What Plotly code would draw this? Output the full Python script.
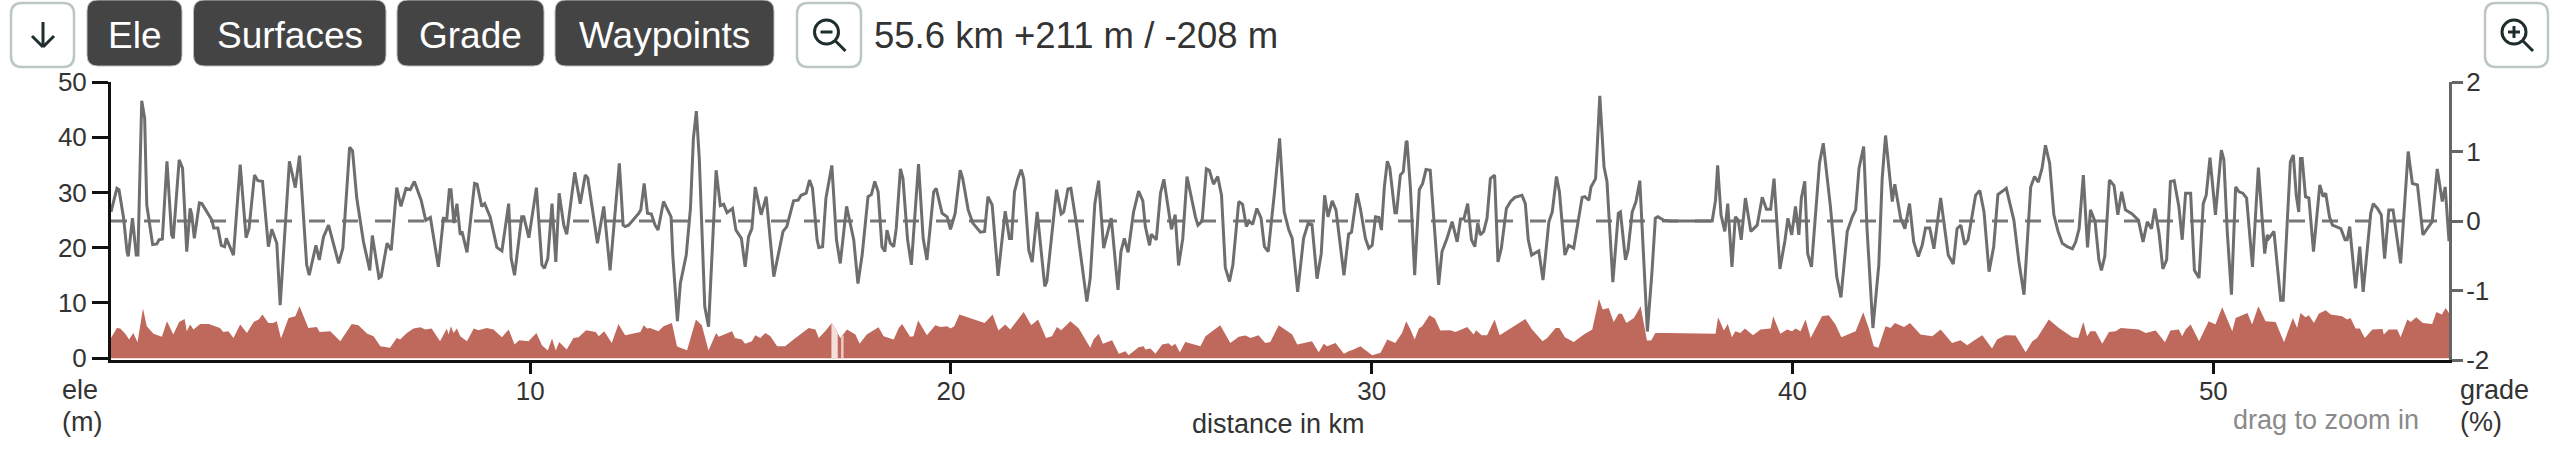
import plotly.graph_objects as go

# grade line
grade_km = [0.04, 0.18, 0.23, 0.34, 0.42, 0.45, 0.55, 0.64, 0.68, 0.77, 0.84, 0.89, 1.03, 1.13, 1.18, 1.26, 1.37, 1.48, 1.52, 1.66, 1.74, 1.84, 1.92, 1.96, 2.02, 2.14, 2.20, 2.44, 2.48, 2.58, 2.66, 2.74, 2.78, 2.95, 3.11, 3.25, 3.32, 3.45, 3.53, 3.64, 3.78, 3.86, 3.98, 4.06, 4.28, 4.42, 4.52, 4.69, 4.75, 4.91, 4.99, 5.09, 5.21, 5.45, 5.55, 5.71, 5.78, 5.88, 6.04,
            6.19, 6.25, 6.41, 6.46, 6.60, 6.70, 6.83, 6.93, 7.05, 7.15, 7.25, 7.41, 7.52, 7.63, 7.82, 7.94, 8.02, 8.08, 8.12, 8.19, 8.26, 8.34, 8.38, 8.50, 8.68, 8.74, 8.85, 8.92, 9.05, 9.21, 9.33, 9.49, 9.55, 9.63, 9.80, 9.85, 9.97, 10.15, 10.28, 10.34, 10.42, 10.52, 10.61, 10.69, 10.80, 10.87, 11.06, 11.19, 11.31, 11.37, 11.60, 11.75, 11.90, 12.12, 12.21,
            12.26, 12.34, 12.58, 12.63, 12.71, 12.79, 12.88, 12.97, 13.04, 13.17, 13.35, 13.39, 13.50, 13.57, 13.71, 13.81, 13.88, 13.95, 14.02, 14.15, 14.24, 14.42, 14.52, 14.60, 14.68, 14.81, 14.89, 15.02, 15.11, 15.19, 15.27, 15.35, 15.49, 15.61, 15.79, 15.92, 16.01, 16.10, 16.26, 16.37, 16.44, 16.56, 16.64, 16.71, 16.82, 16.86, 16.95, 17.03, 17.17, 17.28, 17.37, 17.52, 17.69, 17.79, 17.89, 18.03, 18.11, 18.19, 18.27, 18.36, 18.43,
            18.48, 18.56, 18.64, 18.70, 18.80, 18.86, 18.97, 19.06, 19.23, 19.34, 19.43, 19.59, 19.65, 19.79, 19.91, 19.99, 20.10, 20.22, 20.28, 20.41, 20.52, 20.70, 20.80, 20.88, 20.98, 21.12, 21.29, 21.39, 21.44, 21.51, 21.59, 21.67, 21.73, 21.85, 21.93, 22.05, 22.23, 22.28, 22.51, 22.62, 22.68, 22.78, 22.85, 23.00, 23.23, 23.31, 23.42, 23.51, 23.63, 23.81, 23.97, 24.04, 24.12, 24.21, 24.34, 24.46, 24.56,
            24.62, 24.72, 24.76, 24.88, 24.98, 25.06, 25.15, 25.24, 25.33, 25.41, 25.51, 25.61, 25.81, 25.87, 25.97, 26.07, 26.14, 26.24, 26.34, 26.43, 26.52, 26.62, 26.70, 26.84, 26.93, 27.02, 27.09, 27.17, 27.27, 27.37, 27.45, 27.54, 27.69, 27.81, 27.92, 28.03, 28.11, 28.24, 28.38, 28.49, 28.58, 28.70, 28.80, 28.88, 28.96, 29.06, 29.15, 29.34, 29.45, 29.52, 29.65, 29.73, 29.85, 29.93, 30.01, 30.09, 30.17, 30.23, 30.30, 30.37, 30.43, 30.55, 30.59, 30.68, 30.75, 30.82,
            30.84, 30.92, 31.02, 31.13, 31.21, 31.29, 31.39, 31.59, 31.67, 31.79, 31.91, 32.03, 32.11, 32.19, 32.28, 32.37, 32.45, 32.52, 32.58, 32.66, 32.74, 32.82, 32.92, 33.00, 33.08, 33.20, 33.30, 33.40, 33.57, 33.65, 33.72, 33.80, 33.97, 34.07, 34.21, 34.29, 34.39, 34.46, 34.59, 34.68, 34.80, 35.00, 35.06, 35.16, 35.21, 35.32, 35.42, 35.52, 35.59, 35.73, 35.86, 35.91, 36.03, 36.09, 36.19, 36.28, 36.37, 36.55, 36.66, 36.74, 36.80, 36.94,
            37.10, 38.09, 38.17, 38.22, 38.30, 38.39, 38.46, 38.56, 38.64, 38.71, 38.78, 38.88, 39.01, 39.16, 39.28, 39.38, 39.48, 39.56, 39.70, 39.82, 39.89, 39.98, 40.07, 40.15, 40.21, 40.29, 40.36, 40.45, 40.64, 40.73, 40.90, 41.05, 41.15, 41.30, 41.42, 41.50, 41.58, 41.69, 41.77, 41.91, 42.05, 42.13, 42.21, 42.37, 42.43, 42.57, 42.67, 42.78, 42.88, 42.99, 43.08, 43.16,
            43.26, 43.36, 43.52, 43.70, 43.82, 43.91, 44.00, 44.09, 44.17, 44.35, 44.45, 44.55, 44.67, 44.78, 44.88, 45.08, 45.26, 45.38, 45.50, 45.66, 45.75, 45.84, 45.93, 46.01, 46.11, 46.21, 46.31, 46.41, 46.53, 46.65, 46.73, 46.81, 46.91, 47.01, 47.08, 47.19, 47.28, 47.34, 47.42, 47.53, 47.64, 47.73, 47.82, 47.91, 48.07, 48.22, 48.33, 48.43, 48.53, 48.61, 48.71, 48.80, 48.89, 48.98, 49.07, 49.18, 49.26, 49.34,
            49.46, 49.55, 49.66, 49.76, 49.83, 49.92, 50.05, 50.19, 50.25, 50.33, 50.43, 50.53, 50.61, 50.70, 50.79, 50.93, 51.07, 51.22, 51.28, 51.32, 51.44, 51.60, 51.66, 51.83, 51.90, 51.97, 52.03, 52.07, 52.11, 52.19, 52.27, 52.38, 52.53, 52.61, 52.67, 52.76, 52.83, 53.03, 53.13, 53.18, 53.24, 53.38, 53.48, 53.56, 53.74, 53.80, 53.90, 53.99, 54.07, 54.17, 54.27, 54.45, 54.63, 54.73, 54.85, 54.98, 55.20, 55.32, 55.44, 55.51, 55.60]
grade_pct = [0.13, 0.47, 0.45, 0.04, -0.44, -0.51, 0.04, -0.49, -0.49, 1.73, 1.48, 0.23, -0.34, -0.33, -0.27, -0.26, 0.86, -0.20, -0.25, 0.88, 0.76, -0.44, 0.18, 0.09, -0.25, 0.26, 0.25, 0.01, -0.10, -0.10, -0.35, -0.37, -0.25, -0.49, 0.81, -0.24, -0.11, 0.66, 0.58, 0.57, -0.37, -0.12, -0.32, -1.21, 0.86, 0.48, 0.94, -0.63, -0.78, -0.35, -0.56, -0.23, -0.06, -0.61, -0.39, 1.06, 1.01, 0.33, -0.30,
             -0.71, -0.21, -0.82, -0.80, -0.32, -0.42, 0.48, 0.21, 0.47, 0.45, 0.57, 0.30, 0.01, 0.05, -0.66, 0.04, 0.03, 0.45, 0.45, -0.03, 0.25, -0.20, -0.15, -0.45, 0.54, 0.53, 0.21, 0.25, 0.06, -0.38, -0.43, 0.25, -0.54, -0.78, 0.06, 0.06, -0.24, 0.48, -0.63, -0.68, -0.54, 0.25, -0.59, 0.40, -0.06, -0.19, 0.70, 0.25, 0.66, 0.62, -0.32, 0.21, -0.71, 0.83, -0.06,
             -0.08, -0.06, 0.11, 0.16, 0.54, 0.11, 0.10, -0.06, -0.13, 0.28, 0.06, -0.49, -1.44, -0.90, -0.49, 0.18, 1.19, 1.58, 0.90, -1.23, -1.52, 0.73, 0.22, 0.24, 0.12, 0.18, -0.13, -0.25, -0.66, -0.23, -0.11, 0.49, 0.09, 0.35, -0.80, -0.44, -0.15, -0.08, 0.29, 0.30, 0.37, 0.40, 0.59, 0.47, -0.27, -0.38, -0.37, 0.33, 0.80, -0.27, -0.61, 0.21, -0.27, -0.90, -0.49, 0.35, 0.38, 0.57, 0.42, -0.37, -0.44,
             -0.13, -0.32, -0.37, -0.11, 0.75, 0.61, -0.27, -0.63, 0.82, -0.25, -0.56, 0.42, 0.47, 0.11, 0.06, -0.12, 0.11, 0.73, 0.61, 0.16, -0.03, -0.16, -0.15, 0.35, 0.23, -0.79, 0.14, -0.25, -0.25, 0.42, 0.61, 0.74, 0.61, -0.42, -0.59, 0.13, -0.94, -0.87, 0.45, 0.10, 0.13, 0.46, 0.47, -0.11, -1.16, -0.82, 0.25, 0.58, -0.39, 0.04, -0.99, -0.44, -0.25, -0.45, 0.13, 0.43, 0.29,
             -0.08, -0.35, -0.19, -0.27, 0.40, 0.60, 0.25, -0.12, 0.09, -0.64, -0.25, 0.64, 0.06, -0.06, 0.0, 0.75, 0.73, 0.53, 0.64, 0.37, -0.67, -0.87, -0.63, 0.28, 0.24, -0.08, 0.0, -0.05, 0.18, 0.04, -0.37, -0.44, 0.42, 1.19, 0.13, -0.13, -0.25, -1.02, -0.25, -0.03, -0.05, -0.83, -0.47, 0.37, 0.06, 0.29, 0.16, -0.78, -0.19, -0.16, 0.40, 0.18, -0.25, -0.39, -0.35, 0.06, 0.05, -0.13, 0.49, 0.86, 0.76, 0.12, 0.12, 0.66, 0.71, 1.15,
             1.14, 0.47, -0.78, 0.45, 0.54, 0.74, 0.73, -0.92, -0.44, -0.25, -0.01, -0.30, 0.03, 0.03, 0.25, -0.27, -0.37, -0.03, -0.20, -0.15, 0.04, 0.61, 0.66, -0.59, -0.39, 0.18, 0.28, 0.34, 0.37, 0.25, -0.27, -0.49, -0.43, -0.85, -0.01, 0.13, 0.64, 0.42, -0.49, -0.35, -0.39, 0.34, 0.35, 0.30, 0.49, 0.61, 1.80, 0.78, 0.57, -0.88, 0.11, 0.13, -0.56, -0.42, 0.13, 0.28, 0.58, -1.59, -0.73, 0.04, 0.06, 0.01,
             0.0, 0.0, 0.30, 0.80, 0.09, -0.15, 0.25, -0.66, 0.06, 0.01, -0.27, 0.33, -0.15, -0.06, 0.34, 0.17, 0.17, 0.61, -0.69, -0.28, 0.04, -0.20, 0.21, -0.20, 0.33, 0.57, -0.47, -0.66, 0.83, 1.12, 0.21, -0.80, -1.10, -0.15, 0.06, 0.16, 0.76, 1.07, -0.11, -1.54, -0.63, 0.61, 1.23, 0.28, 0.53, 0.04, -0.11, 0.25, -0.30, -0.51, -0.35, -0.10,
             -0.10, -0.40, 0.33, -0.49, -0.62, -0.11, -0.06, -0.34, -0.27, 0.37, 0.44, 0.13, -0.73, -0.37, 0.38, 0.47, 0.01, -0.59, -1.06, 0.49, 0.64, 0.56, 0.76, 1.09, 0.83, 0.09, -0.15, -0.32, -0.37, -0.40, -0.30, -0.11, 0.66, -0.38, 0.16, -0.01, -0.56, -0.71, -0.51, 0.59, 0.51, 0.09, 0.42, 0.16, 0.10, 0.01, -0.30, -0.01, -0.11, 0.18, -0.18, -0.69, -0.56, 0.57, 0.58, 0.21, -0.27, 0.40,
             0.40, -0.71, -0.82, 0.25, 0.37, 0.91, 0.09, 1.02, 0.88, -0.15, -1.06, 0.49, 0.42, 0.40, 0.33, -0.66, 0.77, -0.47, -0.20, -0.25, -0.15, -1.14, -1.14, 0.85, 0.95, 0.37, 0.13, 0.90, 0.90, 0.35, 0.33, -0.44, 0.52, 0.35, 0.40, 0.06, -0.06, -0.11, -0.27, -0.27, -0.08, -0.97, -0.37, -1.02, 0.11, 0.25, 0.18, 0.09, -0.54, 0.16, 0.16, -0.61, 1.00, 0.54, 0.52, -0.20, -0.01, 0.75, 0.28, 0.49, -0.29]

# elevation area
ele_km = [0.04, 0.18, 0.26, 0.38, 0.47, 0.57, 0.67, 0.80, 0.89, 1.05, 1.25, 1.37, 1.52, 1.66, 1.79, 1.84, 1.92, 2.00, 2.16, 2.36, 2.63, 2.71, 2.83, 2.95, 3.11, 3.27, 3.43, 3.55, 3.64, 3.78, 3.89, 3.98, 4.08, 4.26, 4.42, 4.52, 4.73, 4.93, 5.00, 5.25, 5.49, 5.76, 5.92, 6.13,
          6.28, 6.44, 6.67, 6.83, 6.91, 7.07, 7.23, 7.39, 7.51, 7.66, 7.86, 8.02, 8.06, 8.12, 8.18, 8.26, 8.34, 8.50, 8.66, 8.77, 8.97, 9.13, 9.33, 9.49, 9.63, 9.74, 9.96, 10.15, 10.28, 10.42, 10.52, 10.61, 10.69, 10.87, 11.03, 11.15, 11.33, 11.56, 11.63, 11.76, 11.94, 12.10, 12.21,
          12.26, 12.62, 12.70, 12.78, 12.85, 13.05, 13.17, 13.37, 13.49, 13.57, 13.73, 13.94, 14.08, 14.24, 14.42, 14.48, 14.60, 14.80, 14.87, 15.03, 15.11, 15.27, 15.35, 15.47, 15.59, 15.71, 15.87, 16.06, 16.26, 16.62, 16.78, 16.86, 17.01, 17.17, 17.25, 17.37, 17.53, 17.73, 17.83, 18.00, 18.28, 18.40,
          18.64, 18.76, 18.84, 19.03, 19.11, 19.22, 19.43, 19.63, 19.75, 19.91, 19.99, 20.08, 20.20, 20.80, 20.99, 21.13, 21.29, 21.41, 21.73, 21.91, 22.07, 22.26, 22.40, 22.52, 22.62, 22.84, 23.04, 23.15, 23.31, 23.39, 23.51, 23.61, 23.83, 23.99, 24.15, 24.22, 24.46, 24.58,
          24.62, 24.74, 24.86, 25.02, 25.17, 25.25, 25.33, 25.44, 25.57, 25.93, 26.05, 26.40, 26.64, 26.84, 27.00, 27.12, 27.31, 27.47, 27.59, 27.79, 27.91, 28.11, 28.23, 28.58, 28.74, 28.86, 28.94, 29.14, 29.34, 29.45, 29.57, 29.73, 30.01, 30.21, 30.37, 30.56, 30.72, 30.82,
          30.92, 31.02, 31.12, 31.20, 31.37, 31.50, 31.63, 31.87, 31.99, 32.27, 32.42, 32.48, 32.61, 32.74, 32.92, 33.04, 33.65, 33.81, 34.06, 34.17, 34.37, 34.46, 34.59, 34.80, 35.04, 35.24, 35.40, 35.49, 35.63, 35.75, 35.87, 35.95, 36.05, 36.23, 36.39, 36.54, 36.64, 36.74,
          36.98, 38.17, 38.23, 38.37, 38.46, 38.56, 38.64, 38.76, 38.87, 39.06, 39.24, 39.48, 39.54, 39.71, 39.87, 39.99, 40.07, 40.19, 40.31, 40.43, 40.70, 40.86, 41.02, 41.16, 41.50, 41.68, 41.81, 41.93, 42.04, 42.21, 42.33, 42.43, 42.65, 42.79, 43.04,
          43.32, 43.52, 43.79, 43.99, 44.15, 44.35, 44.51, 44.74, 44.86, 45.06, 45.30, 45.54, 45.70, 45.81, 46.09, 46.33, 46.65, 46.79, 46.91, 47.00, 47.08, 47.20, 47.36, 47.52, 47.68, 47.80, 48.23, 48.39, 48.63, 48.85, 48.98, 49.18, 49.26,
          49.34, 49.46, 49.66, 49.89, 50.05, 50.21, 50.45, 50.53, 50.81, 50.92, 51.07, 51.24, 51.48, 51.68, 51.89, 51.99, 52.07, 52.19, 52.27, 52.39, 52.51, 52.67, 52.79, 53.06, 53.18, 53.26, 53.38, 53.48, 53.60, 53.78, 54.02, 54.05, 54.17, 54.37, 54.45, 54.61, 54.69, 54.82, 54.98, 55.20, 55.30, 55.43, 55.52, 55.60]
ele_m = [3.67, 5.48, 5.36, 4.40, 3.37, 4.58, 2.89, 8.98, 5.78, 4.40, 3.86, 6.69, 4.28, 6.57, 7.11, 4.88, 6.08, 5.18, 6.20, 6.20, 5.48, 4.76, 4.88, 3.67, 6.08, 4.58, 6.57, 6.99, 7.89, 6.39, 6.39, 6.69, 3.55, 7.29, 7.59, 9.40, 5.48, 5.66, 4.76, 4.88, 3.07, 6.20, 5.96, 4.40,
         3.98, 2.17, 1.87, 3.67, 3.37, 4.58, 5.36, 5.60, 5.18, 5.36, 3.07, 5.36, 4.28, 5.78, 4.58, 5.36, 3.98, 3.07, 5.36, 5.06, 5.48, 5.18, 3.80, 5.18, 2.47, 3.25, 3.07, 4.58, 2.35, 1.39, 3.55, 1.39, 2.95, 1.57, 3.67, 3.80, 5.06, 4.76, 3.98, 4.88, 2.77, 6.20, 4.76,
         4.16, 4.76, 5.96, 5.36, 5.48, 4.88, 5.78, 6.39, 2.17, 1.87, 1.45, 6.99, 5.96, 1.39, 4.58, 3.86, 4.28, 4.88, 3.67, 3.37, 2.59, 3.07, 4.16, 3.67, 4.58, 3.98, 2.17, 2.17, 3.37, 5.48, 5.18, 3.67, 4.88, 6.39, 5.48, 3.67, 5.18, 4.28, 2.59, 4.28, 5.60, 3.98,
         3.37, 5.48, 6.20, 3.86, 3.98, 6.81, 4.16, 5.96, 5.66, 5.78, 5.36, 5.78, 7.89, 6.39, 7.89, 5.00, 6.08, 5.18, 8.37, 5.96, 6.99, 3.67, 3.98, 5.66, 5.06, 6.69, 5.36, 3.98, 1.87, 3.37, 4.40, 2.59, 3.25, 0.78, 1.27, 0.54, 1.99, 2.17,
         1.57, 1.75, 0.78, 2.47, 2.71, 2.17, 2.59, 1.08, 2.95, 2.17, 3.98, 5.96, 2.77, 3.86, 4.10, 3.67, 4.16, 2.77, 2.95, 5.96, 5.36, 4.28, 2.47, 3.07, 1.08, 2.59, 2.17, 2.77, 0.78, 1.27, 1.57, 2.17, 0.54, 0.96, 3.37, 2.77, 4.58, 6.69,
         5.18, 3.37, 5.36, 5.78, 7.77, 7.17, 5.00, 5.06, 4.76, 5.66, 4.28, 5.06, 4.16, 4.16, 6.99, 4.16, 7.11, 5.18, 3.07, 3.67, 5.48, 5.48, 3.80, 2.95, 4.28, 5.18, 10.72, 8.80, 9.10, 6.57, 8.07, 8.01, 6.39, 7.29, 9.40, 3.19, 3.19, 4.58,
         4.58, 4.40, 7.41, 5.00, 6.20, 3.80, 4.88, 4.58, 5.36, 4.16, 5.18, 5.36, 7.59, 4.40, 5.18, 4.88, 5.36, 4.88, 6.99, 3.67, 7.59, 7.77, 6.08, 3.80, 4.88, 8.31, 5.48, 2.17, 1.87, 5.78, 5.48, 6.39, 5.66, 6.39, 4.28,
         3.98, 5.18, 2.77, 3.25, 2.35, 3.37, 4.16, 1.75, 3.37, 4.16, 4.10, 1.08, 3.07, 3.67, 6.99, 5.48, 3.80, 3.67, 6.57, 3.98, 4.88, 4.88, 2.59, 4.76, 4.88, 5.48, 5.18, 4.58, 5.00, 2.89, 5.00, 5.18, 3.98,
         5.18, 6.08, 3.07, 6.69, 6.08, 9.22, 4.88, 7.29, 8.19, 6.08, 9.40, 6.69, 6.57, 2.89, 7.29, 5.48, 8.19, 7.41, 7.77, 6.39, 8.07, 8.67, 7.89, 7.59, 6.99, 7.29, 5.36, 5.36, 3.67, 5.18, 5.30, 4.28, 5.18, 5.18, 3.80, 6.99, 6.57, 7.41, 6.39, 6.20, 8.37, 7.89, 9.10, 8.19]

# pale gap in the elevation fill around km 17
gap_km = [17.16, 17.17, 17.25, 17.31]
gap_m = [6.3, 6.39, 5.48, 4.5]
gap2_km = [17.39, 17.45]
gap2_m = [3.9, 4.2]

ele_ticks = [0, 10, 20, 30, 40, 50]
grade_ticks = [-2, -1, 0, 1, 2]
grade_labels = ['-2', '-1', '0', '1', '2']
km_ticks = [10, 20, 30, 40, 50]
buttons = [('Ele', 87, 182), ('Surfaces', 193.5, 386), ('Grade', 397, 544), ('Waypoints', 555, 774)]

FONT = 'Liberation Sans'
TEXT = '#333333'
LEFT, RIGHT, TOP, BOTTOM = 111, 2449, 82, 360


def px(x):
    return (x - LEFT) / (RIGHT - LEFT)


def py(y):
    return (BOTTOM - y) / (BOTTOM - TOP)


def rounded(x0, y0, x1, y1, r):
    return (f'M {px(x0 + r)} {py(y0)} L {px(x1 - r)} {py(y0)} Q {px(x1)} {py(y0)} {px(x1)} {py(y0 + r)} '
            f'L {px(x1)} {py(y1 - r)} Q {px(x1)} {py(y1)} {px(x1 - r)} {py(y1)} '
            f'L {px(x0 + r)} {py(y1)} Q {px(x0)} {py(y1)} {px(x0)} {py(y1 - r)} '
            f'L {px(x0)} {py(y0 + r)} Q {px(x0)} {py(y0)} {px(x0 + r)} {py(y0)} Z')


def seg(x0, y0, x1, y1, color='#1f2d2d', width=3):
    return dict(type='line', xref='paper', yref='paper', x0=px(x0), y0=py(y0), x1=px(x1), y1=py(y1),
                line=dict(color=color, width=width))


def label(text, x, y, size=27, color=TEXT, anchor='left'):
    return dict(text=text, xref='paper', yref='paper', x=px(x), y=py(y), showarrow=False, xanchor=anchor,
                yanchor='middle', font=dict(family=FONT, size=size, color=color))


fig = go.Figure()
fig.add_trace(go.Scatter(x=ele_km, y=ele_m, mode='lines', line=dict(width=0), fill='tozeroy', fillcolor='#bf685c', yaxis='y'))
fig.add_trace(go.Scatter(x=gap_km, y=gap_m, mode='lines', line=dict(width=0), fill='tozeroy', fillcolor='#f5dfdb', yaxis='y'))
fig.add_trace(go.Scatter(x=gap2_km, y=gap2_m, mode='lines', line=dict(width=0), fill='tozeroy', fillcolor='#eec9c3', yaxis='y'))
fig.add_trace(go.Scatter(x=[0.04, 55.6], y=[0, 0], mode='lines', line=dict(color='#777777', width=3, dash='16px,17px'), yaxis='y2'))
fig.add_trace(go.Scatter(x=grade_km, y=grade_pct, mode='lines', line=dict(color='#6e6e6e', width=3), yaxis='y2'))

shapes = []
annotations = []
for x0, x1 in [(11, 74), (797, 861), (2485, 2548)]:
    shapes.append(dict(type='path', xref='paper', yref='paper', path=rounded(x0, 3, x1, 67, 11),
                       line=dict(color='#bcc6c4', width=2.5), fillcolor='white'))
for name, x0, x1 in buttons:
    shapes.append(dict(type='path', xref='paper', yref='paper', path=rounded(x0, 0, x1, 66, 11),
                       line=dict(color='#b5bdbb', width=1), fillcolor='#444444'))
    annotations.append(label(name, (x0 + x1) / 2, 36, size=37, color='white', anchor='center'))

# down arrow
shapes += [seg(43, 22, 43, 47), seg(32, 36, 43, 47), seg(54, 36, 43, 47)]
# magnifiers
for cx, cy in [(826.5, 32), (2514, 32)]:
    shapes.append(dict(type='circle', xref='paper', yref='paper', x0=px(cx - 12), x1=px(cx + 12), y0=py(cy - 12), y1=py(cy + 12),
                       line=dict(color='#1f2d2d', width=3)))
    shapes.append(seg(cx + 9, cy + 9, cx + 19, cy + 19))
    shapes.append(seg(cx - 6, cy, cx + 6, cy))
shapes.append(seg(2514, 26, 2514, 38))

annotations += [
    label('55.6 km +211 m / -208 m', 872, 36, size=36.5),
    label('ele', 60, 390),
    label('(m)', 60, 422),
    label('distance in km', 1278, 424, anchor='center'),
    label('grade', 2458, 390),
    label('(%)', 2458, 422),
    label('drag to zoom in', 2421, 420, color='#8a8a8a', anchor='right'),
]

fig.update_layout(
    width=2560, height=458, autosize=False, showlegend=False,
    margin=dict(l=LEFT, r=2560 - RIGHT, t=TOP, b=458 - BOTTOM, pad=0),
    paper_bgcolor='white', plot_bgcolor='white',
    font=dict(family=FONT, size=26, color=TEXT),
    xaxis=dict(range=[0.04, 55.6], tickvals=km_ticks, ticks='outside', ticklen=11, tickwidth=3, tickcolor='#111111',
               ticklabelstandoff=-5, showline=True, linewidth=3, linecolor='#111111', showgrid=False, zeroline=False),
    yaxis=dict(range=[-0.33, 50], tickvals=ele_ticks, ticks='outside', ticklen=16, tickwidth=3, tickcolor='#111111',
               showline=True, linewidth=3, linecolor='#111111', showgrid=False, zeroline=False),
    yaxis2=dict(range=[-2, 2], overlaying='y', side='right', tickvals=grade_ticks, ticktext=grade_labels, ticks='outside',
                ticklen=11, tickwidth=3, tickcolor='#666666', ticklabelstandoff=-2, showline=True, linewidth=3, linecolor='#666666',
                showgrid=False, zeroline=False),
    shapes=shapes, annotations=annotations,
)

fig.write_html("out.html", config={'displayModeBar': False}, post_script="document.body.style.margin='0';")
